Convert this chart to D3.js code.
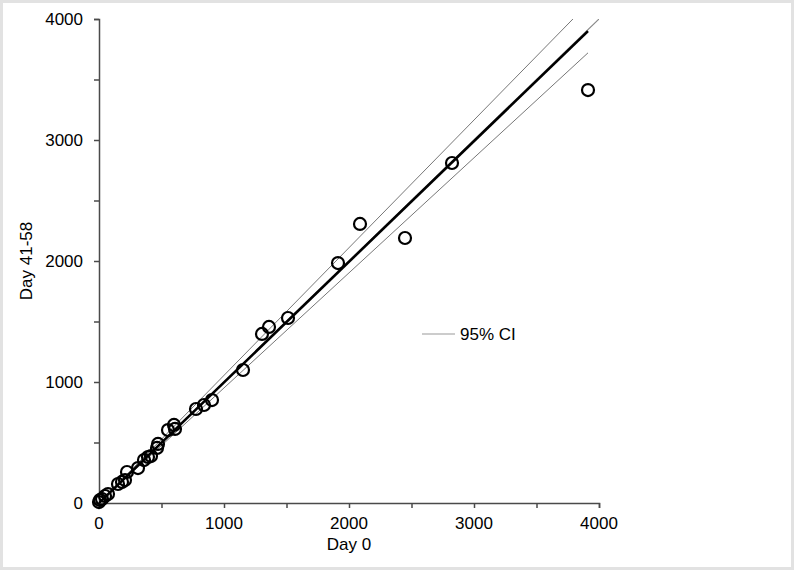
<!DOCTYPE html>
<html>
<head>
<meta charset="utf-8">
<script src="https://cdn.jsdelivr.net/npm/d3@7"></script>
<style>
  body { margin: 0; background: #fff; }
  text { font-family: "Liberation Sans", Arial, sans-serif; fill: #000; }
</style>
</head>
<body>
<div id="chart"></div>
<script>
// Observations: Day 0 vs Day 41-58
const day0 = [0, 8, 24, 48, 72, 152, 184, 208, 224, 312, 360, 392, 416, 464, 472,
  552, 600, 608, 776, 840, 904, 1152, 1304, 1360, 1512, 1912, 2088, 2448, 2824, 3912];
const day41 = [8, 25, 33, 58, 74, 157, 174, 190, 256, 289, 355, 380, 388, 455, 488,
  603, 645, 612, 777, 810, 851, 1099, 1397, 1455, 1529, 1983, 2306, 2190, 2810, 3413];

// fitted line through origin and its 95% CI slopes
const fitSlope = 0.997;
const ciSlopes = [1.055, 0.951];
const fitRange = [0, 3912];

const xTicks = [0, 1000, 2000, 3000, 4000];
const yTicks = [0, 1000, 2000, 3000, 4000];
const minorTicks = [0, 500, 1000, 1500, 2000, 2500, 3000, 3500, 4000];

const width = 794, height = 570;
const margin = { top: 19, right: 195, bottom: 67, left: 99 };
const innerW = width - margin.left - margin.right;
const innerH = height - margin.top - margin.bottom;

const svg = d3.select('#chart').append('svg')
  .attr('width', width)
  .attr('height', height);

// light frame round the picture
svg.append('rect')
  .attr('x', 1.5).attr('y', 1.5)
  .attr('width', width - 3).attr('height', height - 3)
  .attr('fill', 'none')
  .attr('stroke', '#e2e2e2')
  .attr('stroke-width', 3);

const g = svg.append('g')
  .attr('transform', `translate(${margin.left},${margin.top})`);

const x = d3.scaleLinear().domain([0, 4000]).range([0, innerW]);
const y = d3.scaleLinear().domain([0, 4000]).range([innerH, 0]);

g.append('defs').append('clipPath').attr('id', 'plot-clip')
  .append('rect').attr('width', innerW).attr('height', innerH);

// axes
const xAxis = g.append('g')
  .attr('transform', `translate(0,${innerH})`)
  .call(d3.axisBottom(x).tickValues(minorTicks).tickSize(5).tickFormat(''));
const yAxis = g.append('g')
  .call(d3.axisLeft(y).tickValues(minorTicks).tickSize(5).tickFormat(''));

[xAxis, yAxis].forEach(ax => {
  ax.select('.domain').attr('stroke', '#4a4a4a').attr('stroke-width', 1.5);
  ax.selectAll('.tick line').attr('stroke', '#4a4a4a').attr('stroke-width', 1.5);
});

g.selectAll('.xlab')
  .data(xTicks)
  .enter().append('text')
  .attr('x', d => x(d))
  .attr('y', innerH + 26)
  .attr('text-anchor', 'middle')
  .style('font-size', '17px')
  .text(d => d);

g.selectAll('.ylab')
  .data(yTicks)
  .enter().append('text')
  .attr('x', -16)
  .attr('y', d => y(d) + 6)
  .attr('text-anchor', 'end')
  .style('font-size', '17px')
  .text(d => d);

g.append('text')
  .attr('x', innerW / 2)
  .attr('y', innerH + 47)
  .attr('text-anchor', 'middle')
  .style('font-size', '17px')
  .text('Day 0');

g.append('text')
  .attr('transform', `translate(-67,${innerH / 2}) rotate(-90)`)
  .attr('text-anchor', 'middle')
  .style('font-size', '17px')
  .text('Day 41-58');

// lines
const lines = g.append('g').attr('clip-path', 'url(#plot-clip)');
const line = d3.line().x(d => x(d[0])).y(d => y(d[1]));

lines.append('path')
  .datum([[0, 0], [4000, 4000]])
  .attr('d', line)
  .attr('fill', 'none')
  .attr('stroke', '#888')
  .attr('stroke-width', 1.2);

ciSlopes.forEach(s => {
  lines.append('path')
    .datum(fitRange.map(v => [v, v * s]))
    .attr('d', line)
    .attr('fill', 'none')
    .attr('stroke', '#777')
    .attr('stroke-width', 1);
});

lines.append('path')
  .datum(fitRange.map(v => [v, v * fitSlope]))
  .attr('d', line)
  .attr('fill', 'none')
  .attr('stroke', '#000')
  .attr('stroke-width', 2.6);

// points
g.selectAll('.pt')
  .data(day0.map((d, i) => [d, day41[i]]))
  .enter().append('circle')
  .attr('cx', d => x(d[0]))
  .attr('cy', d => y(d[1]))
  .attr('r', 6)
  .attr('fill', 'none')
  .attr('stroke', '#000')
  .attr('stroke-width', 2.2);

// legend
const legend = svg.append('g').attr('transform', 'translate(422,334)');
legend.append('line')
  .attr('x1', 0).attr('x2', 33)
  .attr('stroke', '#999')
  .attr('stroke-width', 1.2);
legend.append('text')
  .attr('x', 38)
  .attr('y', 6)
  .style('font-size', '17px')
  .text('95% CI');
</script>
</body>
</html>
